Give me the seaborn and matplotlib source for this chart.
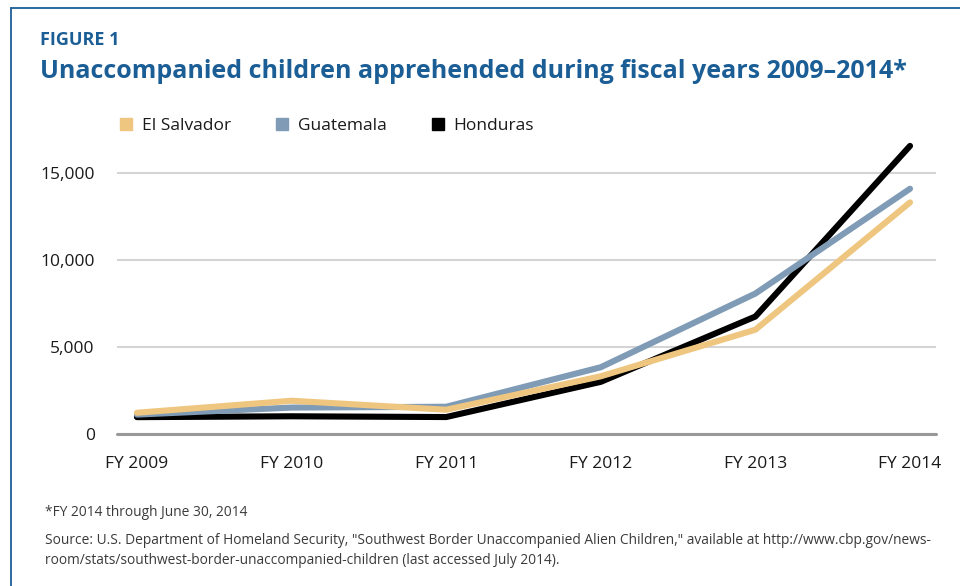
import matplotlib
matplotlib.use("Agg")
import matplotlib.pyplot as plt
import seaborn as sns
import pandas as pd
from matplotlib.lines import Line2D

# ---- data ----
years = ["FY 2009", "FY 2010", "FY 2011", "FY 2012", "FY 2013", "FY 2014"]
el_salvador = [1221, 1910, 1394, 3314, 5990, 13301]
guatemala = [1115, 1517, 1565, 3835, 8068, 14086]
honduras = [968, 1017, 974, 2997, 6747, 16546]
countries = ["El Salvador", "Guatemala", "Honduras"]
colors = {"El Salvador": "#EFC67F", "Guatemala": "#7F9BB5", "Honduras": "#000000"}
y_ticks = [0, 5000, 10000, 15000]

title_blue = "#1B5E96"

df = pd.DataFrame({
    "x": list(range(len(years))) * 3,
    "value": el_salvador + guatemala + honduras,
    "country": ["El Salvador"] * 6 + ["Guatemala"] * 6 + ["Honduras"] * 6,
})

sns.set_theme(style="white")
plt.rcParams["font.family"] = ["Open Sans", "DejaVu Sans"]

fig = plt.figure(figsize=(9.6, 5.86), dpi=100)
ax = fig.add_axes([117/960, 1-434/586, (936-117)/960, (434-138)/586])

# draw Honduras first, El Salvador on top
sns.lineplot(data=df, x="x", y="value", hue="country",
             hue_order=["Honduras", "Guatemala", "El Salvador"],
             palette=colors, linewidth=4.4, ax=ax, legend=False,
             solid_capstyle="round")

ax.set_xlim(-0.129, 5.168)
ax.set_ylim(0, 17000)
ax.set_yticks(y_ticks)
ax.set_yticklabels([f"{v:,}" for v in y_ticks])
ax.set_xticks(range(len(years)))
ax.set_xticklabels(years)
ax.set_xlabel("")
ax.set_ylabel("")
for s in ax.spines.values():
    s.set_visible(False)
ax.grid(axis="y", color="#D4D4D4", linewidth=1.5, zorder=0)
ax.set_axisbelow(True)
ax.axhline(0, color="#999999", linewidth=2.2, clip_on=False, zorder=1)
ax.tick_params(axis="both", length=0, labelsize=12.5, colors="#1a1a1a")
ax.tick_params(axis="y", pad=16)
ax.tick_params(axis="x", pad=16)

# legend
handles = [Line2D([], [], marker="s", linestyle="none", markersize=9,
                  markerfacecolor=colors[c], markeredgecolor=colors[c]) for c in countries]
leg = fig.legend(handles, countries, loc="upper left", bbox_to_anchor=(102/960, 1-102/586),
                 ncol=3, frameon=False, fontsize=12.5, handletextpad=0.4,
                 columnspacing=2.45, handlelength=1.0)
for t in leg.get_texts():
    t.set_color("#1a1a1a")

# titles
fig.text(40/960, 1-40/586, "FIGURE 1", color=title_blue, fontsize=13, fontweight="bold",
         va="center", ha="left")
fig.text(40/960, 1-72/586, "Unaccompanied children apprehended during fiscal years 2009\u20132014*",
         color=title_blue, fontsize=18, fontweight="bold", va="center", ha="left")

# footnotes
foot_color = "#3a3a3a"
fig.text(45/960, 1-512/586, "*FY 2014 through June 30, 2014", color=foot_color,
         fontsize=9.9, va="center", ha="left")
fig.text(45/960, 1-541/586,
         "Source: U.S. Department of Homeland Security, \"Southwest Border Unaccompanied Alien Children,\" available at http://www.cbp.gov/news-",
         color=foot_color, fontsize=9.95, va="center", ha="left")
fig.text(45/960, 1-561/586,
         "room/stats/southwest-border-unaccompanied-children (last accessed July 2014).",
         color=foot_color, fontsize=9.95, va="center", ha="left")

# border frame (left and top)
fig.add_artist(Line2D([11/960, 11/960], [0, 1-8/586], transform=fig.transFigure,
                      color=title_blue, linewidth=1.3))
fig.add_artist(Line2D([11/960, 1], [1-8/586, 1-8/586], transform=fig.transFigure,
                      color=title_blue, linewidth=1.3))

fig.savefig("out.png", dpi=100)
